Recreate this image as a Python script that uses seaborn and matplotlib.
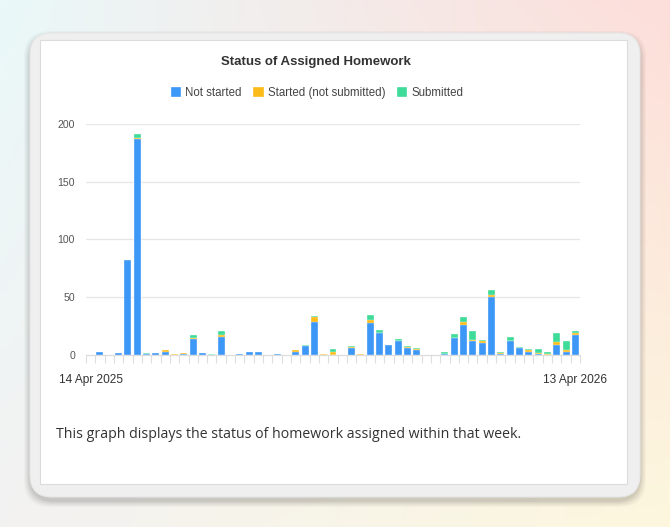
"""Weekly status of assigned homework, stacked by completion state."""

import matplotlib.pyplot as plt
import numpy as np
import pandas as pd
import seaborn as sns
from matplotlib.patches import FancyBboxPatch, Rectangle

WEEKS = pd.date_range("2025-04-14", "2026-04-13", freq="7D")
NOT_STARTED = [0, 3, 0, 2, 82, 187, 1, 2, 3, 0, 1, 14, 2, 0, 16, 0, 1, 3, 3, 0,
               1, 0, 3, 8, 29, 0, 0, 0, 6, 0, 28, 19, 9, 12, 6, 4, 0, 0, 1, 15,
               26, 12, 10, 50, 1, 12, 6, 3, 1, 0, 9, 3, 17]
STARTED = [0, 0, 0, 0, 0, 1, 0, 0, 1, 1, 1, 1, 0, 0, 1, 0, 0, 0, 0, 0,
           0, 0, 1, 0, 4, 1, 3, 0, 1, 1, 2, 0, 0, 0, 1, 1, 0, 0, 0, 0,
           3, 1, 2, 2, 1, 0, 0, 1, 1, 1, 2, 1, 2]
SUBMITTED = [0, 0, 0, 0, 0, 3, 1, 0, 0, 0, 0, 2, 0, 1, 4, 0, 0, 0, 0, 0,
             0, 0, 0, 1, 1, 0, 2, 0, 1, 0, 5, 3, 0, 2, 1, 1, 0, 0, 2, 3,
             4, 8, 1, 4, 1, 4, 1, 1, 3, 2, 8, 8, 2]
SERIES = ["Not started", "Started (not submitted)", "Submitted"]
COLORS = ["#3d97f6", "#fbbc1a", "#3fdb98"]
TITLE = "Status of Assigned Homework"
CAPTION = "This graph displays the status of homework assigned within that week."

W, H = 670, 527


def to_fig(x0, y0, x1, y1):
    """Pixel box (top-left origin) to figure fraction [l, b, w, h]."""
    return [x0 / W, 1 - y1 / H, (x1 - x0) / W, (y1 - y0) / H]


sns.set_theme(style="white")
plt.rcParams["font.family"] = ["Liberation Sans", "DejaVu Sans"]

fig = plt.figure(figsize=(W / 100, H / 100), dpi=100)

# page background + card
bg = fig.add_axes([0, 0, 1, 1])
bg.set_xlim(0, W)
bg.set_ylim(H, 0)
bg.axis("off")
corners = np.array([[[234, 248, 249], [253, 222, 218]],
                    [[243, 242, 242], [253, 247, 222]]]) / 255
u = np.linspace(0, 1, 200)[None, :, None]
v = np.linspace(0, 1, 160)[:, None, None]
grad = ((1 - v) * ((1 - u) * corners[0, 0] + u * corners[0, 1])
        + v * ((1 - u) * corners[1, 0] + u * corners[1, 1]))
bg.imshow(grad, extent=(0, W, H, 0), aspect="auto", zorder=0)
for i, a in enumerate([0.025, 0.03, 0.035, 0.045, 0.05]):
    pad = 12 - 2.5 * i
    bg.add_patch(FancyBboxPatch((30 - pad / 2, 33 - pad / 2 + 4), 610 + pad, 464 + pad,
                                boxstyle="round,pad=0,rounding_size=26",
                                fc="black", ec="none", alpha=a, zorder=1))
bg.add_patch(FancyBboxPatch((30, 33), 610, 464,
                            boxstyle="round,pad=0,rounding_size=22",
                            fc="#efefef", ec="#e6e6e6", lw=0.8, zorder=2))
bg.add_patch(Rectangle((40, 40), 587, 444, fc="white", ec="#dcdcdc", lw=0.8, zorder=3))
bg.text(316, 62, TITLE, ha="center", va="center", fontsize=9.5,
        fontweight="bold", color="#333333", zorder=4)
bg.text(56, 435, CAPTION, ha="left", va="center", fontsize=10.2,
        family=["Open Sans", "DejaVu Sans"], color="#333333", zorder=4)

# stacked bars: layer cumulative totals
df = pd.DataFrame({
    "week": WEEKS.strftime("%d %b %Y"),
    SERIES[0]: NOT_STARTED,
    SERIES[1]: STARTED,
    SERIES[2]: SUBMITTED,
})
df["lvl1"] = df[SERIES[0]]
df["lvl2"] = df["lvl1"] + df[SERIES[1]]
df["lvl3"] = df["lvl2"] + df[SERIES[2]]

ax = fig.add_axes(to_fig(86, 124, 580, 355))
for col, color, label in zip(["lvl3", "lvl2", "lvl1"], COLORS[::-1], SERIES[::-1]):
    sns.barplot(data=df, x="week", y=col, color=color, saturation=1, width=0.75,
                edgecolor="white", linewidth=0.25, label=label, ax=ax, zorder=3)

ax.set_xlim(-0.5, len(df) - 0.5)
ax.set_ylim(0, 200)
ax.set_yticks([0, 50, 100, 150, 200])
ax.grid(axis="y", color="#e6e6e6", linewidth=0.9, zorder=0)
ax.grid(axis="x", visible=False)
ax.set_xticks([0, len(df) - 1])
ax.set_xticklabels([df["week"].iloc[0].lstrip("0"), df["week"].iloc[-1].lstrip("0")])
ax.set_xticks(np.arange(-0.5, len(df)), minor=True)
ax.tick_params(axis="x", which="major", length=0, pad=14, labelsize=8.6, labelcolor="#333333")
ax.tick_params(axis="x", which="minor", length=6, width=0.8, color="#dddddd", bottom=True)
ax.tick_params(axis="y", length=0, pad=8, labelsize=7.6, labelcolor="#555555")
ax.set_xlabel("")
ax.set_ylabel("")
for side in ["top", "right", "left"]:
    ax.spines[side].set_visible(False)
ax.spines["bottom"].set_color("#dddddd")
ax.spines["bottom"].set_linewidth(0.9)

handles, labels = ax.get_legend_handles_labels()
order = [labels.index(s) for s in SERIES]
ax.legend([handles[i] for i in order], SERIES, loc="center",
          bbox_to_anchor=(317 / W, 1 - 93 / H), bbox_transform=fig.transFigure,
          ncol=3, frameon=False, fontsize=8.3, handlelength=0.9, handleheight=0.9,
          handletextpad=0.35, columnspacing=1.0, labelcolor="#444444")

fig.savefig("out.png", dpi=100)
